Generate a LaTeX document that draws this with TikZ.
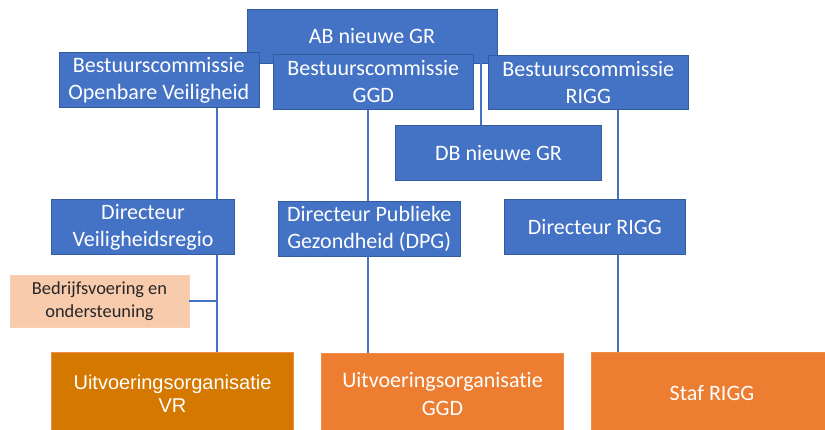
\documentclass[tikz,border=0pt]{standalone}
\usepackage{fontspec}
\setmainfont{Carlito}[Ligatures=NoCommon]
\newfontfamily\arialfont{Liberation Sans}
\definecolor{bblue}{RGB}{68,114,196}
\definecolor{bborder}{RGB}{52,90,160}
\definecolor{orangeA}{RGB}{237,125,49}
\definecolor{orangeB}{RGB}{213,120,0}
\definecolor{oborder}{RGB}{240,140,70}
\definecolor{peach}{RGB}{248,203,173}
\begin{document}
\begin{tikzpicture}[x=1pt,y=-1pt,
  box/.style={rectangle, inner sep=0pt, align=center, text=white,
    font=\fontsize{22}{26.7}\selectfont, line width=0.6pt},
  bluebox/.style={box, fill=bblue, draw=bborder},
  orangebox/.style={box, fill=orangeA, draw=oborder, font=\fontsize{22}{28}\selectfont},
  vrbox/.style={box, fill=orangeB, draw=oborder, font=\arialfont\fontsize{20}{23}\selectfont},
  peachbox/.style={box, fill=peach, draw=peach!90!white, text=black!85, font=\fontsize{18.4}{22.5}\selectfont},
  conn/.style={draw=bblue, line width=1.8pt}]
\useasboundingbox (0,0) rectangle (825,429);
\node[bluebox, minimum width=250pt, minimum height=54pt] (AB) at (372,36) {AB nieuwe GR};
\node[bluebox, minimum width=200pt, minimum height=55pt] (BOV) at (158.8,80.2) {Bestuurscommissie\\Openbare Veiligheid};
\node[bluebox, minimum width=200pt, minimum height=55pt] (BGGD) at (373.3,81.8) {Bestuurscommissie\\GGD};
\node[bluebox, minimum width=200.7pt, minimum height=54.3pt] (BRIGG) at (588.3,82.2) {Bestuurscommissie\\RIGG};
\node[bluebox, minimum width=205.6pt, minimum height=55pt] (DB) at (498.5,152.8) {DB nieuwe GR};
\node[bluebox, minimum width=182.6pt, minimum height=55.4pt] (DVR) at (143,227) {Directeur\\Veiligheidsregio};
\node[bluebox, minimum width=181.7pt, minimum height=54.7pt] (DPG) at (369.2,228.7) {Directeur Publieke\\Gezondheid (DPG)};
\node[bluebox, minimum width=181.7pt, minimum height=55.4pt] (DRIGG) at (594.8,227) {Directeur RIGG};
\node[peachbox, minimum width=179pt, minimum height=52.3pt] (BV) at (99.5,301.2) {Bedrijfsvoering en\\ondersteuning};
\node[vrbox, minimum width=241.6pt, minimum height=82pt] (UVR) at (172.5,393.3) {Uitvoeringsorganisatie\\VR};
\node[orangebox, minimum width=241.6pt, minimum height=81pt] (UGGD) at (442.5,393.8) {Uitvoeringsorganisatie\\GGD};
\node[orangebox, minimum width=241.4pt, minimum height=82pt] (STAF) at (712,393.3) {Staf RIGG};
\coordinate (xv) at (216.7,0);
\coordinate (xg) at (368.3,0);
\coordinate (xd) at (480.7,0);
\coordinate (xr) at (618.3,0);
\draw[conn] (BOV.south -| xv) -- (DVR.north -| xv);
\draw[conn] (DVR.south -| xv) -- (UVR.north -| xv);
\draw[conn] (BV.east) -- (BV.east -| xv);
\draw[conn] (BGGD.south -| xg) -- (DPG.north -| xg);
\draw[conn] (DPG.south -| xg) -- (UGGD.north -| xg);
\draw[conn] (AB.south -| xd) -- (DB.north -| xd);
\draw[conn] (BRIGG.south -| xr) -- (DRIGG.north -| xr);
\draw[conn] (DRIGG.south -| xr) -- (STAF.north -| xr);
\end{tikzpicture}
\end{document}
